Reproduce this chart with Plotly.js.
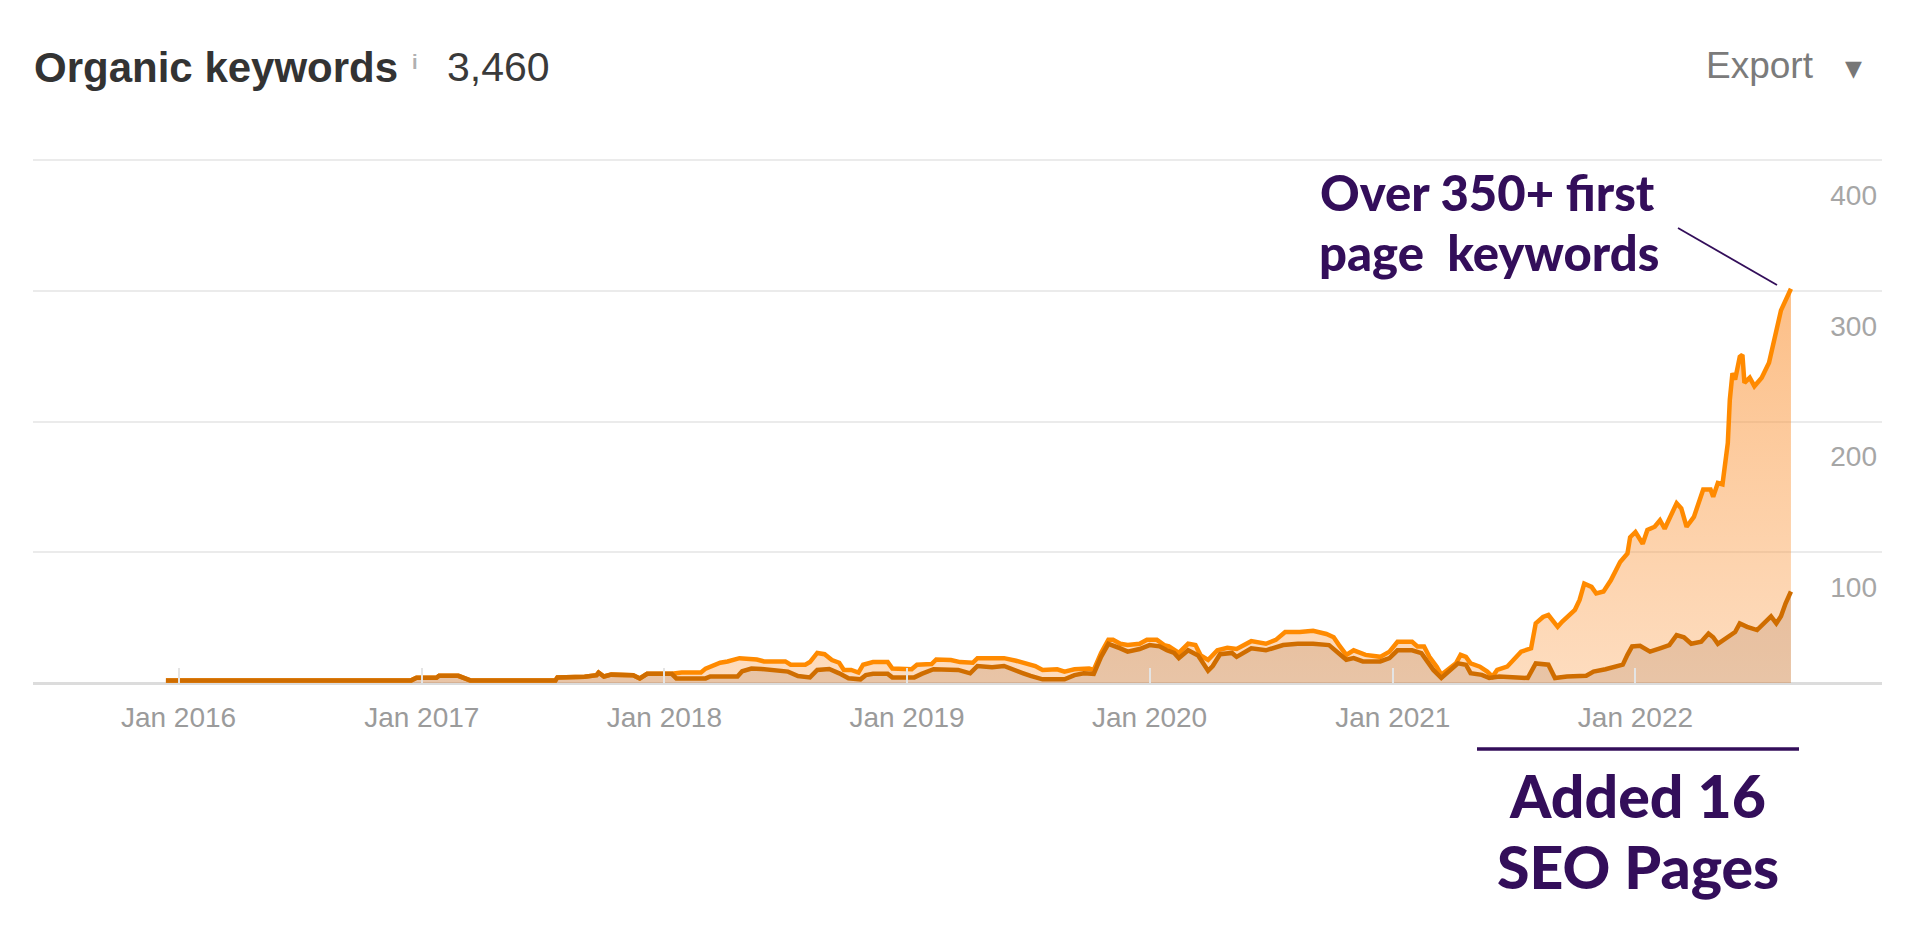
<!DOCTYPE html>
<html>
<head>
<meta charset="utf-8">
<script src="https://cdn.plot.ly/plotly-3.0.1.min.js"></script>
<style>html,body{margin:0;padding:0;background:#fff;}#chart{width:1920px;height:944px;}</style>
</head>
<body>
<div id="chart"></div>
<script>
// ---- data ----
const earlyDates = ['2015-12-13','2016-12-16','2016-12-24','2017-01-23','2017-01-27','2017-02-25','2017-03-15','2017-07-21','2017-07-24','2017-09-03','2017-09-21','2017-09-24','2017-10-02','2017-10-13','2017-11-15','2017-11-25','2017-12-06','2018-01-12'];
const earlyValues = [2,2,4,4,5.5,5.5,2,2,4.3,4.8,6,8,5,6.4,6,3.5,7,7];

const upperDates = ['2018-01-27','2018-02-25','2018-03-04','2018-03-26','2018-04-06','2018-04-24','2018-05-20','2018-05-31','2018-07-02','2018-07-10','2018-08-01','2018-08-08','2018-08-19','2018-08-30','2018-09-10','2018-09-21','2018-09-28','2018-10-09','2018-10-20','2018-10-27','2018-11-11','2018-12-03','2018-12-10',
'2019-01-08','2019-01-16','2019-02-07','2019-02-14','2019-03-08','2019-03-22','2019-04-10','2019-04-17','2019-05-27','2019-06-14','2019-06-25','2019-07-13','2019-07-24','2019-08-15','2019-08-26','2019-09-10','2019-10-02','2019-10-09','2019-10-20','2019-10-31','2019-11-07','2019-11-18','2019-11-29','2019-12-17','2019-12-28',
'2020-01-12','2020-01-23','2020-01-30','2020-02-14','2020-02-28','2020-03-10','2020-03-18','2020-03-29','2020-04-12','2020-04-27','2020-05-11','2020-06-02','2020-06-24','2020-07-09','2020-07-23','2020-08-14','2020-09-03','2020-09-23','2020-10-04','2020-10-12','2020-10-23','2020-11-03','2020-11-21','2020-12-13','2020-12-27',
'2021-01-08','2021-01-30','2021-02-07','2021-02-17','2021-02-25','2021-03-08','2021-03-15','2021-03-26','2021-04-06','2021-04-13','2021-04-21','2021-04-28','2021-05-12','2021-05-23','2021-05-31','2021-06-07','2021-06-22','2021-07-13','2021-07-28','2021-08-04','2021-08-15','2021-08-23','2021-09-06','2021-09-13','2021-10-02','2021-10-09','2021-10-16','2021-10-27','2021-11-03','2021-11-14','2021-11-25','2021-12-09','2021-12-20','2021-12-24',
'2022-01-01','2022-01-12','2022-01-19','2022-01-30','2022-02-07','2022-02-14','2022-02-21','2022-03-04','2022-03-11','2022-03-19','2022-03-30','2022-04-06','2022-04-13','2022-04-24','2022-04-28','2022-05-05','2022-05-12','2022-05-20','2022-05-23','2022-05-27','2022-05-31','2022-06-07','2022-06-11','2022-06-14','2022-06-22','2022-06-29','2022-07-10','2022-07-21','2022-08-01','2022-08-08','2022-08-23'];
const upperValues = [8,8,11,15.5,16.5,19,18,16.5,16.5,14,14,16,23,22,17.6,15.5,10,10,8,14,16,16,11,
10.5,14,14.5,18,17.6,16,15.5,19,19,17,15.5,13,10,10.5,8.7,10.5,11,10,23,33,33,30,29,30,33,
33,29,28,23,30,29,21,17.6,25,27,26,32,30,33,39,39,40,37.5,35,29,21.5,25,21.5,20,24,
31.5,31.5,28,28,20,12.5,6.2,11,15,21.5,20,15,12.5,8.7,4.9,10,12.5,24,26.5,45.6,50.5,52,43,47,56,63.5,76,73.5,68.5,70,78.5,92.5,99,111.5,
115.5,106.5,117,119.5,124.5,118,126,137.5,133.5,119.5,127,137.5,148,148,142.5,153,152,183.5,216.5,237,232,249.5,251,229.5,233.5,227,233.5,245,267.5,285,301.5];

const lowerDates = ['2018-01-19','2018-03-04','2018-03-11','2018-04-21','2018-04-28','2018-05-12','2018-05-27','2018-06-11','2018-07-06','2018-07-21','2018-08-08','2018-08-19','2018-09-06','2018-09-21','2018-10-05','2018-10-23','2018-10-31','2018-11-11','2018-12-03','2018-12-10',
'2019-01-12','2019-01-23','2019-02-10','2019-03-19','2019-04-06','2019-04-17','2019-05-09','2019-05-27','2019-06-14','2019-06-25','2019-07-06','2019-07-24','2019-08-26','2019-09-10','2019-09-24','2019-10-09','2019-10-20','2019-10-31','2019-11-18','2019-11-29','2019-12-17',
'2020-01-01','2020-01-16','2020-01-27','2020-02-07','2020-02-14','2020-02-28','2020-03-14','2020-03-29','2020-04-05','2020-04-16','2020-05-04','2020-05-11','2020-06-02','2020-06-24','2020-07-20','2020-08-11','2020-09-03','2020-09-27','2020-10-12','2020-10-23','2020-11-03','2020-11-17','2020-12-13','2020-12-27',
'2021-01-08','2021-01-30','2021-02-13','2021-02-20','2021-03-03','2021-03-15','2021-03-26','2021-04-09','2021-04-21','2021-04-28','2021-05-15','2021-05-26','2021-06-10','2021-07-05','2021-07-23','2021-08-04','2021-08-23','2021-09-02','2021-09-20','2021-10-19','2021-10-30','2021-11-17','2021-12-13','2021-12-20','2021-12-27',
'2022-01-08','2022-01-23','2022-02-07','2022-02-21','2022-03-04','2022-03-15','2022-03-26','2022-04-10','2022-04-21','2022-04-28','2022-05-05','2022-05-20','2022-05-31','2022-06-07','2022-06-18','2022-07-03','2022-07-17','2022-07-24','2022-08-01','2022-08-08','2022-08-15','2022-08-23'];
const lowerValues = [3.5,3.5,5,5,9,11,10.7,10,8.7,5.4,4.3,10,10.7,7.4,3.6,2.8,6,7,7,4.3,
4.3,7,10.5,10,7.4,13,12,13,10,7.4,5.4,2.8,2.8,6,7.4,7,20,30,26.5,24,26,
29,28,25,23,19,25,21,9.4,13,22,23,20,26.5,25,29,30,30,29,22.8,17.8,19,16.5,16.5,19,
25,25,22.8,17.8,10,3.8,8.7,15,14,7.5,6.2,3.8,5,4.5,3.8,15,14,3.8,5,5.5,8.7,10.5,14,21.5,28,
28.5,24,26.5,29,36.6,35,30,31.5,37.8,35,30,35,39,45.6,43,40.5,47,51,45.6,51,61,70];

const tickDates = ['2016-01-01','2017-01-01','2018-01-01','2019-01-01','2020-01-01','2021-01-01','2022-01-01'];
const tickLabels = ['Jan 2016','Jan 2017','Jan 2018','Jan 2019','Jan 2020','Jan 2021','Jan 2022'];
const yTicks = [0,100,200,300,400];
const totalKeywords = '3,460';

// ---- layout helpers ----
const W = 1920, H = 944;
const M = {l:33, r:38, t:157, b:261, pad:0};
const PW = W - M.l - M.r, PH = H - M.t - M.b;
const px = x => (x - M.l) / PW;
const py = y => (H - M.b - y) / PH;
const PURPLE = '#330e5a';
const BIG = 'Lato, "Open Sans", sans-serif';
const SANS = '"Liberation Sans", Arial, Helvetica, sans-serif';

const upperX = earlyDates.concat(upperDates);
const upperY = earlyValues.concat(upperValues);
const lowerX = earlyDates.concat(lowerDates);
const lowerY = earlyValues.concat(lowerValues);

const traces = [
  {
    x: upperX, y: upperY, type: 'scatter', mode: 'lines',
    line: {color: '#ff8a00', width: 4.5},
    fill: 'tozeroy',
    fillgradient: {type: 'vertical', colorscale: [[0, 'rgba(250,150,60,0.33)'], [1, 'rgba(250,140,40,0.56)']]},
    hoverinfo: 'skip'
  },
  {
    x: lowerX, y: lowerY, type: 'scatter', mode: 'lines',
    line: {color: '#cf6d00', width: 4.5},
    fill: 'tozeroy',
    fillcolor: 'rgba(150,100,70,0.2)',
    hoverinfo: 'skip'
  }
];

const layout = {
  width: W, height: H, margin: M,
  paper_bgcolor: '#fff', plot_bgcolor: '#fff',
  showlegend: false,
  title: {
    text: '<b>Organic keywords</b>', x: 34 / W, xref: 'container', xanchor: 'left',
    y: 1 - 67 / H, yref: 'container', yanchor: 'middle',
    font: {family: SANS, size: 42, color: '#333333'}
  },
  xaxis: {
    type: 'date', range: ['2015-05-27', '2023-01-07'],
    tickmode: 'array', tickvals: tickDates, ticktext: tickLabels,
    ticks: 'inside', ticklen: 15, tickwidth: 2, tickcolor: '#e4e4e4',
    showgrid: false, showline: false, zeroline: false,
    tickfont: {family: SANS, size: 28, color: '#9b9b9b'},
    ticklabelstandoff: 15,
    fixedrange: true
  },
  yaxis: {
    range: [0, 402.3], tickmode: 'array', tickvals: yTicks,
    side: 'right', ticklabelposition: 'inside', ticklabelshift: 35, ticklabelstandoff: 2,
    showgrid: true, gridcolor: '#ebebeb', gridwidth: 2,
    zeroline: true, zerolinecolor: '#dcdcdc', zerolinewidth: 3,
    showline: false, ticks: '',
    tickfont: {family: SANS, size: 28, color: '#a6a6a6'},
    fixedrange: true
  },
  annotations: [
    {xref: 'paper', yref: 'paper', x: px(410), y: py(62), xanchor: 'left', yanchor: 'middle', showarrow: false,
     text: '<b>i</b>', font: {family: SANS, size: 20, color: '#b0b0b0'}},
    {xref: 'paper', yref: 'paper', x: px(445), y: py(67), xanchor: 'left', yanchor: 'middle', showarrow: false,
     text: totalKeywords, font: {family: SANS, size: 41, color: '#3a3a3a'}},
    {xref: 'paper', yref: 'paper', x: px(1816), y: py(66), xanchor: 'right', yanchor: 'middle', showarrow: false,
     text: 'Export', font: {family: SANS, size: 37, color: '#7b7b7b'}},
    {xref: 'paper', yref: 'paper', x: px(1853), y: py(68), xanchor: 'center', yanchor: 'middle', showarrow: false,
     text: '\u25BC', font: {family: '"DejaVu Sans", sans-serif', size: 22, color: '#777777'}},
    {xref: 'paper', yref: 'paper', x: px(1487), y: py(192), xanchor: 'center', yanchor: 'middle', showarrow: false,
     text: 'Over 350+ first', font: {family: BIG, size: 49, color: PURPLE, weight: 900}},
    {xref: 'paper', yref: 'paper', x: px(1489), y: py(252), xanchor: 'center', yanchor: 'middle', showarrow: false,
     text: 'page\u00a0 keywords', font: {family: BIG, size: 49, color: PURPLE, weight: 900}},
    {xref: 'paper', yref: 'paper', x: px(1637), y: py(795), xanchor: 'center', yanchor: 'middle', showarrow: false,
     text: 'Added 16', font: {family: BIG, size: 59, color: PURPLE, weight: 900}},
    {xref: 'paper', yref: 'paper', x: px(1638), y: py(866), xanchor: 'center', yanchor: 'middle', showarrow: false,
     text: 'SEO Pages', font: {family: BIG, size: 59, color: PURPLE, weight: 900}}
  ],
  shapes: [
    {type: 'line', xref: 'paper', yref: 'paper', x0: px(1477), x1: px(1799), y0: py(749), y1: py(749),
     line: {color: PURPLE, width: 3.5}},
    {type: 'line', xref: 'paper', yref: 'paper', x0: px(1678), y0: py(228), x1: px(1777), y1: py(285),
     line: {color: PURPLE, width: 1.8}}
  ]
};

Plotly.newPlot('chart', traces, layout, {displayModeBar: false, staticPlot: true});
</script>
</body>
</html>
